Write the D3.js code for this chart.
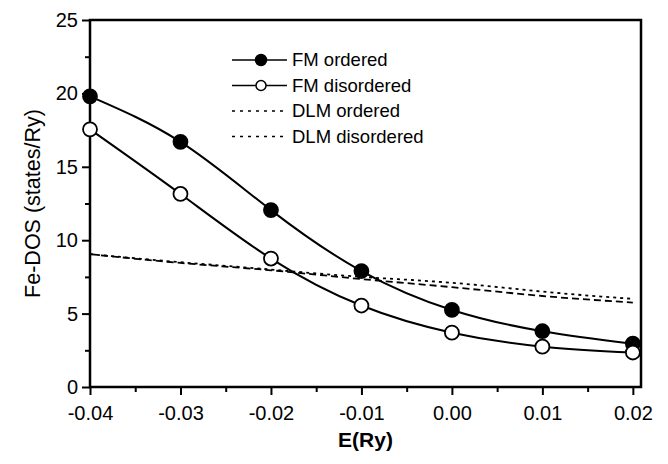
<!DOCTYPE html>
<html>
<head>
<meta charset="utf-8">
<script src="https://cdn.jsdelivr.net/npm/d3@7"></script>
<style>
  body { margin: 0; background: #fff; }
  text { font-family: "Liberation Sans", Arial, sans-serif; fill: #000; }
</style>
</head>
<body>
<div class="chart"></div>
<script>
var energies = [-0.04, -0.03, -0.02, -0.01, 0.00, 0.01, 0.02];
var fmOrdered = [19.8, 16.7, 12.05, 7.9, 5.25, 3.8, 2.95];
var fmDisordered = [17.55, 13.15, 8.75, 5.55, 3.7, 2.75, 2.35];
var dlmOrdered = [9.05, 8.5, 8.0, 7.5, 7.1, 6.5, 6.0];
var dlmDisordered = [9.05, 8.45, 7.95, 7.35, 6.8, 6.2, 5.75];
var seriesNames = ["FM ordered", "FM disordered", "DLM ordered", "DLM disordered"];
var xTicks = [-0.04, -0.03, -0.02, -0.01, 0.00, 0.01, 0.02];
var yTicks = [0, 5, 10, 15, 20, 25];

var w = 668, h = 464;
var margin = {top: 20, right: 27, bottom: 77, left: 90};

var svg = d3.select("div.chart")
            .append("svg")
            .attr("width", w)
            .attr("height", h);

var x = d3.scaleLinear()
          .domain([-0.04, 0.0209])
          .range([margin.left, w - margin.right]);
var y = d3.scaleLinear()
          .domain([0, 25])
          .range([h - margin.bottom, margin.top]);

//minor ticks first, then the major ones on top
var xMinor = d3.range(-0.035, 0.02, 0.01);
var yMinor = d3.range(2.5, 25, 5);

svg.append("g")
   .attr("transform", `translate(0,${y(0)})`)
   .call(d3.axisBottom(x).tickValues(xMinor).tickSize(5).tickFormat(""))
   .call(g => g.select(".domain").remove())
   .call(g => g.selectAll("line").attr("stroke-width", 2));

svg.append("g")
   .attr("transform", `translate(${x(-0.04)},0)`)
   .call(d3.axisLeft(y).tickValues(yMinor).tickSize(5).tickFormat(""))
   .call(g => g.select(".domain").remove())
   .call(g => g.selectAll("line").attr("stroke-width", 2));

var xAxis = svg.append("g")
   .attr("transform", `translate(0,${y(0)})`)
   .call(d3.axisBottom(x).tickValues(xTicks).tickSize(8).tickSizeOuter(0).tickPadding(11).tickFormat(d3.format(".2f")));
xAxis.select(".domain").remove();
xAxis.selectAll("line").attr("stroke-width", 2);
xAxis.selectAll("text").style("font-size", "20px").text(d => d3.format(".2f")(d).replace("−", "-"));

var yAxis = svg.append("g")
   .attr("transform", `translate(${x(-0.04)},0)`)
   .call(d3.axisLeft(y).tickValues(yTicks).tickSize(8).tickPadding(4));
yAxis.select(".domain").remove();
yAxis.selectAll("line").attr("stroke-width", 2);
yAxis.selectAll("text").style("font-size", "20px");

//frame
svg.append("rect")
   .attr("x", x(-0.04))
   .attr("y", y(25))
   .attr("width", x(0.0209) - x(-0.04))
   .attr("height", y(0) - y(25))
   .attr("fill", "none")
   .attr("stroke", "#000")
   .attr("stroke-width", 2.5);

//axis titles
svg.append("text")
   .attr("x", (x(-0.04) + x(0.0209)) / 2)
   .attr("y", 447)
   .attr("text-anchor", "middle")
   .style("font-size", "21px")
   .style("font-weight", "bold")
   .text("E(Ry)");

svg.append("text")
   .attr("transform", `translate(40,${(y(0) + y(25)) / 2}) rotate(-90)`)
   .attr("text-anchor", "middle")
   .style("font-size", "21.5px")
   .text("Fe-DOS (states/Ry)");

var line = d3.line()
             .x(d => x(d[0]))
             .y(d => y(d[1]))
             .curve(d3.curveNatural);

var series = [
  {name: seriesNames[0], values: fmOrdered, dash: null, marker: "#000", width: 2},
  {name: seriesNames[1], values: fmDisordered, dash: null, marker: "#fff", width: 2},
  {name: seriesNames[2], values: dlmOrdered, dash: "3,4", marker: null, width: 1.8},
  {name: seriesNames[3], values: dlmDisordered, dash: "7,4", marker: null, width: 1.8}
];

series.forEach(function(s){
  var pts = energies.map((e, i) => [e, s.values[i]]);
  svg.append("path")
     .attr("d", line(pts))
     .attr("fill", "none")
     .attr("stroke", "#000")
     .attr("stroke-width", s.width)
     .attr("stroke-dasharray", s.dash);
});

//markers on top of lines
series.filter(s => s.marker).forEach(function(s){
  svg.append("g")
     .selectAll("circle")
     .data(energies.map((e, i) => [e, s.values[i]]))
     .enter()
     .append("circle")
        .attr("cx", d => x(d[0]))
        .attr("cy", d => y(d[1]))
        .attr("r", 7)
        .attr("fill", s.marker)
        .attr("stroke", "#000")
        .attr("stroke-width", 1.8);
});

//legend
var legend = svg.append("g")
                .attr("transform", "translate(232,60)")
                .selectAll("g")
                .data(series)
                .enter()
                .append("g")
                .attr("transform", (d, i) => `translate(0,${i * 25.5})`);

legend.append("line")
      .attr("x1", 0).attr("x2", 55)
      .attr("stroke", "#000")
      .attr("stroke-width", 1.5)
      .attr("stroke-dasharray", d => d.dash ? "3,5" : null);

legend.filter(d => d.marker)
      .append("circle")
      .attr("cx", 29)
      .attr("r", d => d.marker === "#000" ? 5.5 : 5)
      .attr("fill", d => d.marker)
      .attr("stroke", "#000")
      .attr("stroke-width", 1.5);

legend.append("text")
      .attr("x", 60)
      .attr("dy", "0.35em")
      .style("font-size", "18.5px")
      .text(d => d.name);
</script>
</body>
</html>
